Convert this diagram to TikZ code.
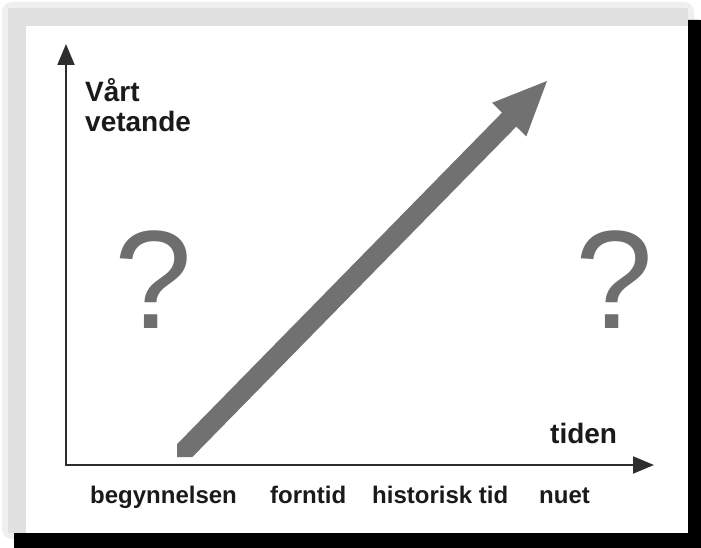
\documentclass[tikz,border=0pt]{standalone}
\usepackage{fontspec}
\setmainfont{Liberation Sans}
\usetikzlibrary{arrows.meta}
\definecolor{shadowgray}{HTML}{E0E0E0}
\definecolor{softgray}{HTML}{EFEFEF}
\definecolor{growgray}{HTML}{717171}
\definecolor{qgray}{HTML}{6E6E6E}
\definecolor{axisgray}{HTML}{2E2E2E}
\definecolor{labelblack}{HTML}{1A1A1A}

\begin{document}
\begin{tikzpicture}[x=1pt, y=-1pt,
    axis/.style={{Triangle[length=21pt, width=17pt]}-{Triangle[length=21pt, width=17pt]},
                 line width=2pt, draw=axisgray},
    lbl/.style={font=\fontsize{28}{30}\selectfont\bfseries, inner sep=0pt, text=labelblack},
    era/.style={font=\fontsize{24}{28}\selectfont\bfseries, inner sep=0pt, anchor=base west,
                text=labelblack},
    qmark/.style={font=\fontsize{140}{140}\selectfont, inner sep=0pt, text=qgray},
]
\useasboundingbox (0,0) rectangle (701,548);
% frame with shadow
\begin{scope}
\clip (0,0) rectangle (701,548);
\fill[white] (0,0) rectangle (701,548);
\fill[softgray, rounded corners=10pt] (2,2) rectangle (694,539);
\fill[black, rounded corners=12pt] (14,20) rectangle (712,560);
\fill[shadowgray] (8,8) rectangle (688,533);
\fill[white] (26,26) rectangle (688,533);
\end{scope}

% axes
\coordinate (origin) at (66,465);
\coordinate (ytip) at (66,44);
\coordinate (xtip) at (654,465);
\draw[axis] (ytip) -- (origin) -- (xtip);

% growing knowledge
\fill[growgray] (177,457) -- (192.4,457) -- (516.3,126.6) -- (526.3,136.4) -- (547,81)
    -- (492.1,102.8) -- (502.1,112.6) -- (177,444.2) -- cycle;

\node[lbl, anchor=north west, align=left] (vetande) at (85,78) {Vårt\\vetande};
\node[lbl, anchor=base west] (tiden) at (550,443) {tiden};

\node[era] (begynnelsen) at (90,503) {begynnelsen};
\node[era] (forntid) at (270,503) {forntid};
\node[era] (historisk) at (372,503) {historisk tid};
\node[era] (nuet) at (539,503) {nuet};

\node[qmark] (qleft) at (153,280) {?};
\node[qmark] (qright) at (614,280) {?};
\end{tikzpicture}
\end{document}
